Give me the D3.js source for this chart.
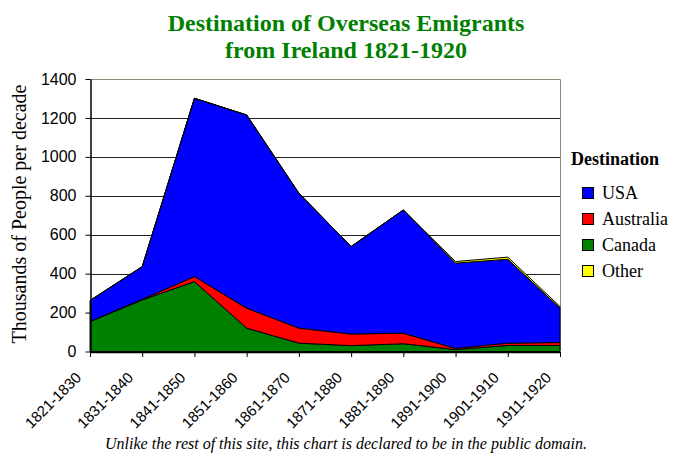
<!DOCTYPE html>
<html lang="en">
<head>
    <meta charset="UTF-8">
    <title>Destination of Overseas Emigrants from Ireland 1821-1920</title>
    <script src="https://d3js.org/d3.v7.min.js"></script>
    <style>
        body { margin: 0; background: #fff; }
        svg { display: block; }
    </style>
</head>
<body>
    <div id="chart"></div>

    <script>
        // data (thousands of people per decade)
        var decades = ["1821-1830", "1831-1840", "1841-1850", "1851-1860", "1861-1870",
                       "1871-1880", "1881-1890", "1891-1900", "1901-1910", "1911-1920"];
        var canada    = [154, 265, 359, 120, 43, 30, 40, 10, 31, 31];
        var australia = [0, 3, 26, 103, 77, 60, 54, 6, 12, 15];
        var usa       = [108, 168, 916, 992, 693, 449, 633, 438, 431, 177];
        var other     = [0, 0, 0, 0, 0, 0, 0, 8, 11, 8];
        var yTicks = [0, 200, 400, 600, 800, 1000, 1200, 1400];

        var legendItems = ["USA", "Australia", "Canada", "Other"];
        var colors = {USA: "#0000ff", Australia: "#ff0000", Canada: "#008000", Other: "#ffff00"};

        var W = 675, H = 456;
        var plotLeft = 90, plotRight = 560, plotTop = 79, plotBottom = 351.5;

        var svg = d3.select("#chart").append("svg")
            .attr("width", W)
            .attr("height", H);

        svg.append("rect").attr("width", W).attr("height", H).attr("fill", "#fff");

        // table for the stack
        var rows = decades.map(function(d, i) {
            return {decade: d, Canada: canada[i], Australia: australia[i], USA: usa[i], Other: other[i]};
        });

        var x = d3.scalePoint().domain(decades).range([plotLeft, plotRight]);
        var y = d3.scaleLinear().domain([0, 1400]).range([plotBottom, plotTop]);

        // gridlines
        svg.append("g")
            .selectAll("line")
            .data(yTicks.filter(function(t) { return t > 0 && t < 1400; }))
            .enter().append("line")
              .attr("x1", plotLeft).attr("x2", plotRight)
              .attr("y1", function(d) { return Math.round(y(d)) + 0.5; })
              .attr("y2", function(d) { return Math.round(y(d)) + 0.5; })
              .attr("stroke", "#222")
              .attr("stroke-width", 1);

        // plot area border (top and right)
        svg.append("path")
            .attr("d", "M" + plotLeft + "," + (Math.round(y(1400)) + 0.5) + "H" + (plotRight + 0.5) + "V" + plotBottom)
            .attr("fill", "none")
            .attr("stroke", "#8a8a78")
            .attr("stroke-width", 1);

        // stacked areas
        var stack = d3.stack().keys(["Canada", "Australia", "USA", "Other"]);
        var series = stack(rows);

        var area = d3.area()
            .x(function(d) { return x(d.data.decade); })
            .y0(function(d) { return y(d[0]); })
            .y1(function(d) { return y(d[1]); });

        svg.append("g")
            .selectAll("path")
            .data(series)
            .enter().append("path")
              .attr("d", area)
              .attr("fill", function(d) { return colors[d.key]; })
              .attr("stroke", "#000")
              .attr("stroke-width", 1)
              .attr("stroke-linejoin", "round");

        // y axis
        var yAxis = svg.append("g")
            .attr("transform", "translate(" + (plotLeft + 0.5) + ",0)")
            .call(d3.axisLeft(y).tickValues(yTicks).tickFormat(d3.format("d"))
                .tickSize(5).tickSizeOuter(0).tickPadding(9));
        yAxis.select(".domain").attr("stroke", "#000").attr("stroke-width", 1.5);
        yAxis.selectAll(".tick line").attr("stroke", "#000");
        yAxis.selectAll("text")
            .style("font-family", "'Liberation Sans', Arial, sans-serif")
            .style("font-size", "16px")
            .attr("fill", "#000");

        // x axis
        var xAxis = svg.append("g")
            .attr("transform", "translate(0," + (plotBottom + 0.5) + ")")
            .call(d3.axisBottom(x).tickSize(5).tickSizeOuter(0).tickPadding(0));
        xAxis.select(".domain").attr("stroke", "#000").attr("stroke-width", 1.5);
        xAxis.selectAll(".tick line").attr("stroke", "#000");
        xAxis.selectAll("text")
            .style("font-family", "'Liberation Sans', Arial, sans-serif")
            .style("font-size", "15px")
            .attr("fill", "#000")
            .attr("text-anchor", "end")
            .attr("dy", "0")
            .attr("transform", "translate(-12,23) rotate(-45)");

        // title
        var title = svg.append("text")
            .attr("text-anchor", "middle")
            .style("font-family", "'Liberation Serif', 'Times New Roman', serif")
            .style("font-weight", "bold")
            .style("font-size", "24px")
            .attr("fill", "#008000");
        title.append("tspan").attr("x", 346).attr("y", 31).text("Destination of Overseas Emigrants");
        title.append("tspan").attr("x", 346).attr("y", 58).text("from Ireland 1821-1920");

        // y axis title
        svg.append("text")
            .attr("text-anchor", "middle")
            .attr("transform", "translate(26,214) rotate(-90)")
            .style("font-family", "'Liberation Serif', 'Times New Roman', serif")
            .style("font-size", "20px")
            .attr("fill", "#000")
            .text("Thousands of People per decade");

        // legend
        svg.append("text")
            .attr("x", 571)
            .attr("y", 165)
            .style("font-family", "'Liberation Serif', 'Times New Roman', serif")
            .style("font-weight", "bold")
            .style("font-size", "18px")
            .attr("fill", "#000")
            .text("Destination");

        var legend = svg.selectAll(".legend")
            .data(legendItems)
            .enter().append("g")
              .attr("class", "legend")
              .attr("transform", function(d, i) { return "translate(582," + (187 + i * 26) + ")"; });

        legend.append("rect")
            .attr("x", 0.5).attr("y", 0.5)
            .attr("width", 11).attr("height", 11)
            .attr("fill", function(d) { return colors[d]; })
            .attr("stroke", "#000");

        legend.append("text")
            .attr("x", 20)
            .attr("y", 12)
            .style("font-family", "'Liberation Serif', 'Times New Roman', serif")
            .style("font-size", "18px")
            .attr("fill", "#000")
            .text(function(d) { return d; });

        // footnote
        svg.append("text")
            .attr("x", 346)
            .attr("y", 449)
            .attr("text-anchor", "middle")
            .style("font-family", "'Liberation Serif', 'Times New Roman', serif")
            .style("font-style", "italic")
            .style("font-size", "16px")
            .attr("fill", "#000")
            .text("Unlike the rest of this site, this chart is declared to be in the public domain.");
    </script>
</body>
</html>
